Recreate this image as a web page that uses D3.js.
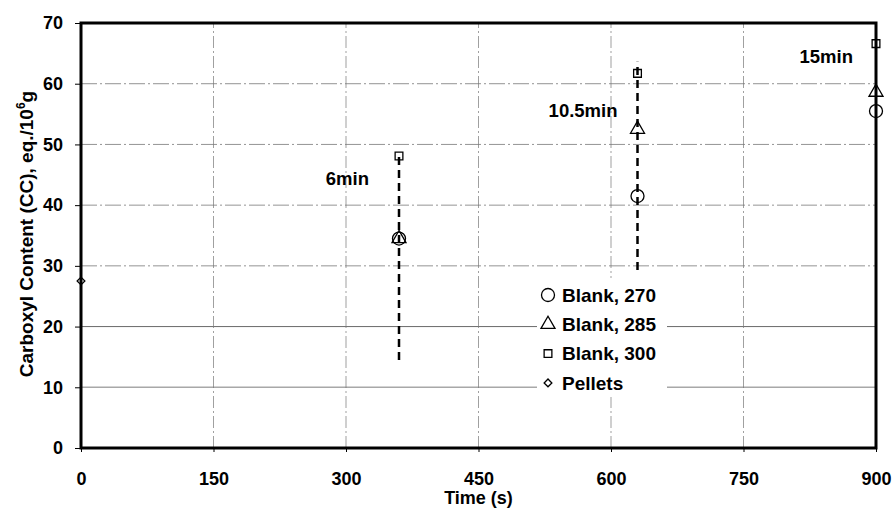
<!DOCTYPE html>
<html>
<head>
<meta charset="utf-8">
<script src="https://cdn.jsdelivr.net/npm/d3@7"></script>
<style>
  body { margin: 0; background: #fff; }
  svg text { font-family: Arial, "Liberation Sans", sans-serif; font-weight: bold; fill: #000; }
</style>
</head>
<body>
<script>
/* data */
const xTicks = [0, 150, 300, 450, 600, 750, 900];
const yTicks = [0, 10, 20, 30, 40, 50, 60, 70];

const seriesNames = ["Blank, 270", "Blank, 285", "Blank, 300", "Pellets"];
const blank270 = [[360, 34.5], [630, 41.5], [900, 55.5]];
const blank285 = [[360, 34.5], [630, 52.5], [900, 58.6]];
const blank300 = [[360, 48.1], [630, 61.7], [900, 66.6]];
const pellets = [[0, 27.5]];

// dashed range lines
const dropTimes = [360, 630];
const dropLow = [14.5, 29.3];
const dropHigh = [48.5, 63.6];

const notes = ["6min", "10.5min", "15min"];
const noteTimes = [360, 630, 900];
const noteValues = [43.4, 54.5, 63.4];

/* chart */
let width = 894;
let height = 521;
let margin = { top: 23, right: 18, bottom: 73, left: 81 };
let plotW = width - margin.left - margin.right;
let plotH = height - margin.top - margin.bottom;

let svg = d3.select("body").append("svg")
  .attr("width", width)
  .attr("height", height);

let x = d3.scaleLinear().domain([0, 900]).range([margin.left, margin.left + plotW]);
let y = d3.scaleLinear().domain([0, 70]).range([margin.top + plotH, margin.top]);

/* grid */
let grid = svg.append("g").attr("class", "grid");
grid.selectAll("line.h")
  .data(yTicks.slice(1, -1))
  .enter().append("line")
  .attr("class", "h")
  .attr("x1", x(0)).attr("x2", x(900))
  .attr("y1", d => y(d)).attr("y2", d => y(d))
  .attr("stroke", d => d == 10 ? "#a8a8a8" : (d == 20 ? "#444" : "#777"))
  .attr("stroke-width", d => d == 10 ? 1.6 : 0.8)
  .attr("stroke-dasharray", d => d <= 20 ? null : "16,3,2,3");

grid.selectAll("line.v")
  .data(xTicks.slice(1, -1))
  .enter().append("line")
  .attr("class", "v")
  .attr("x1", d => x(d)).attr("x2", d => x(d))
  .attr("y1", y(0)).attr("y2", y(70))
  .attr("stroke", "#777")
  .attr("stroke-width", 0.7)
  .attr("stroke-dasharray", "12,3,2,3");

/* axes */
let axisX = d3.axisBottom(x).tickValues(xTicks).tickSize(4).tickPadding(20);
let axisY = d3.axisLeft(y).tickValues(yTicks).tickSize(6).tickPadding(12);

let gx = svg.append("g")
  .attr("transform", "translate(0," + (margin.top + plotH) + ")")
  .call(axisX);
let gy = svg.append("g")
  .attr("transform", "translate(" + margin.left + ",0)")
  .call(axisY);

[gx, gy].forEach(g => {
  g.select(".domain").remove();
  g.selectAll("text").style("font-size", "18px");
  g.selectAll("line").attr("stroke", "#000");
});

svg.append("rect")
  .attr("x", margin.left).attr("y", margin.top)
  .attr("width", plotW).attr("height", plotH)
  .attr("fill", "none")
  .attr("stroke", "#000")
  .attr("stroke-width", 3);

/* axis titles */
svg.append("text")
  .attr("x", margin.left + plotW / 2)
  .attr("y", 504)
  .attr("text-anchor", "middle")
  .style("font-size", "18px")
  .text("Time (s)");

let ytitle = svg.append("text")
  .attr("transform", "translate(33," + 234 + ") rotate(-90)")
  .attr("text-anchor", "middle")
  .style("font-size", "19px");
ytitle.append("tspan").text("Carboxyl Content (CC), eq./10");
ytitle.append("tspan").attr("dy", -8).style("font-size", "12px").text("6");
ytitle.append("tspan").attr("dy", 8).text("g");

/* dashed range lines */
svg.selectAll("line.drop")
  .data(dropTimes)
  .enter().append("line")
  .attr("class", "drop")
  .attr("x1", d => x(d)).attr("x2", d => x(d))
  .attr("y1", (d, i) => y(dropLow[i]))
  .attr("y2", (d, i) => y(dropHigh[i]))
  .attr("stroke", "#000")
  .attr("stroke-width", 2.5)
  .attr("stroke-dasharray", "8,5");

/* markers */
let symbols = [
  d3.symbol().type(d3.symbolCircle).size(133),
  d3.symbol().type(d3.symbolTriangle).size(85),
  d3.symbol().type(d3.symbolSquare).size(60),
  d3.symbol().type(d3.symbolSquare).size(30)
];
let rotations = [0, 0, 0, 45];
let allSeries = [blank270, blank285, blank300, pellets];

allSeries.forEach((s, k) => {
  svg.append("g").selectAll("path")
    .data(s)
    .enter().append("path")
    .attr("d", symbols[k])
    .attr("transform", d => "translate(" + x(d[0]) + "," + y(d[1]) + ") rotate(" + rotations[k] + ")")
    .attr("fill", "none")
    .attr("stroke", "#000")
    .attr("stroke-width", 1.3);
});

/* notes, set to the left of their time */
let noteGap = [30, 20, 23];
svg.selectAll("text.note")
  .data(notes)
  .enter().append("text")
  .attr("class", "note")
  .attr("x", (d, i) => x(noteTimes[i]) - noteGap[i])
  .attr("y", (d, i) => y(noteValues[i]))
  .attr("text-anchor", "end")
  .style("font-size", "18.5px")
  .text(d => d);

/* legend */
let legend = svg.append("g");
legend.append("rect")
  .attr("x", 537).attr("y", 278)
  .attr("width", 130).attr("height", 119)
  .attr("fill", "#fff");

let items = legend.selectAll("g.item")
  .data(seriesNames)
  .enter().append("g")
  .attr("class", "item")
  .attr("transform", (d, i) => "translate(548," + (295 + i * 29.3) + ")");

items.append("path")
  .attr("d", (d, i) => symbols[i]())
  .attr("transform", (d, i) => "rotate(" + rotations[i] + ")")
  .attr("fill", "none")
  .attr("stroke", "#000")
  .attr("stroke-width", 1.3);

items.append("text")
  .attr("x", 14)
  .attr("dy", "0.36em")
  .style("font-size", "19px")
  .text(d => d);
</script>
</body>
</html>
